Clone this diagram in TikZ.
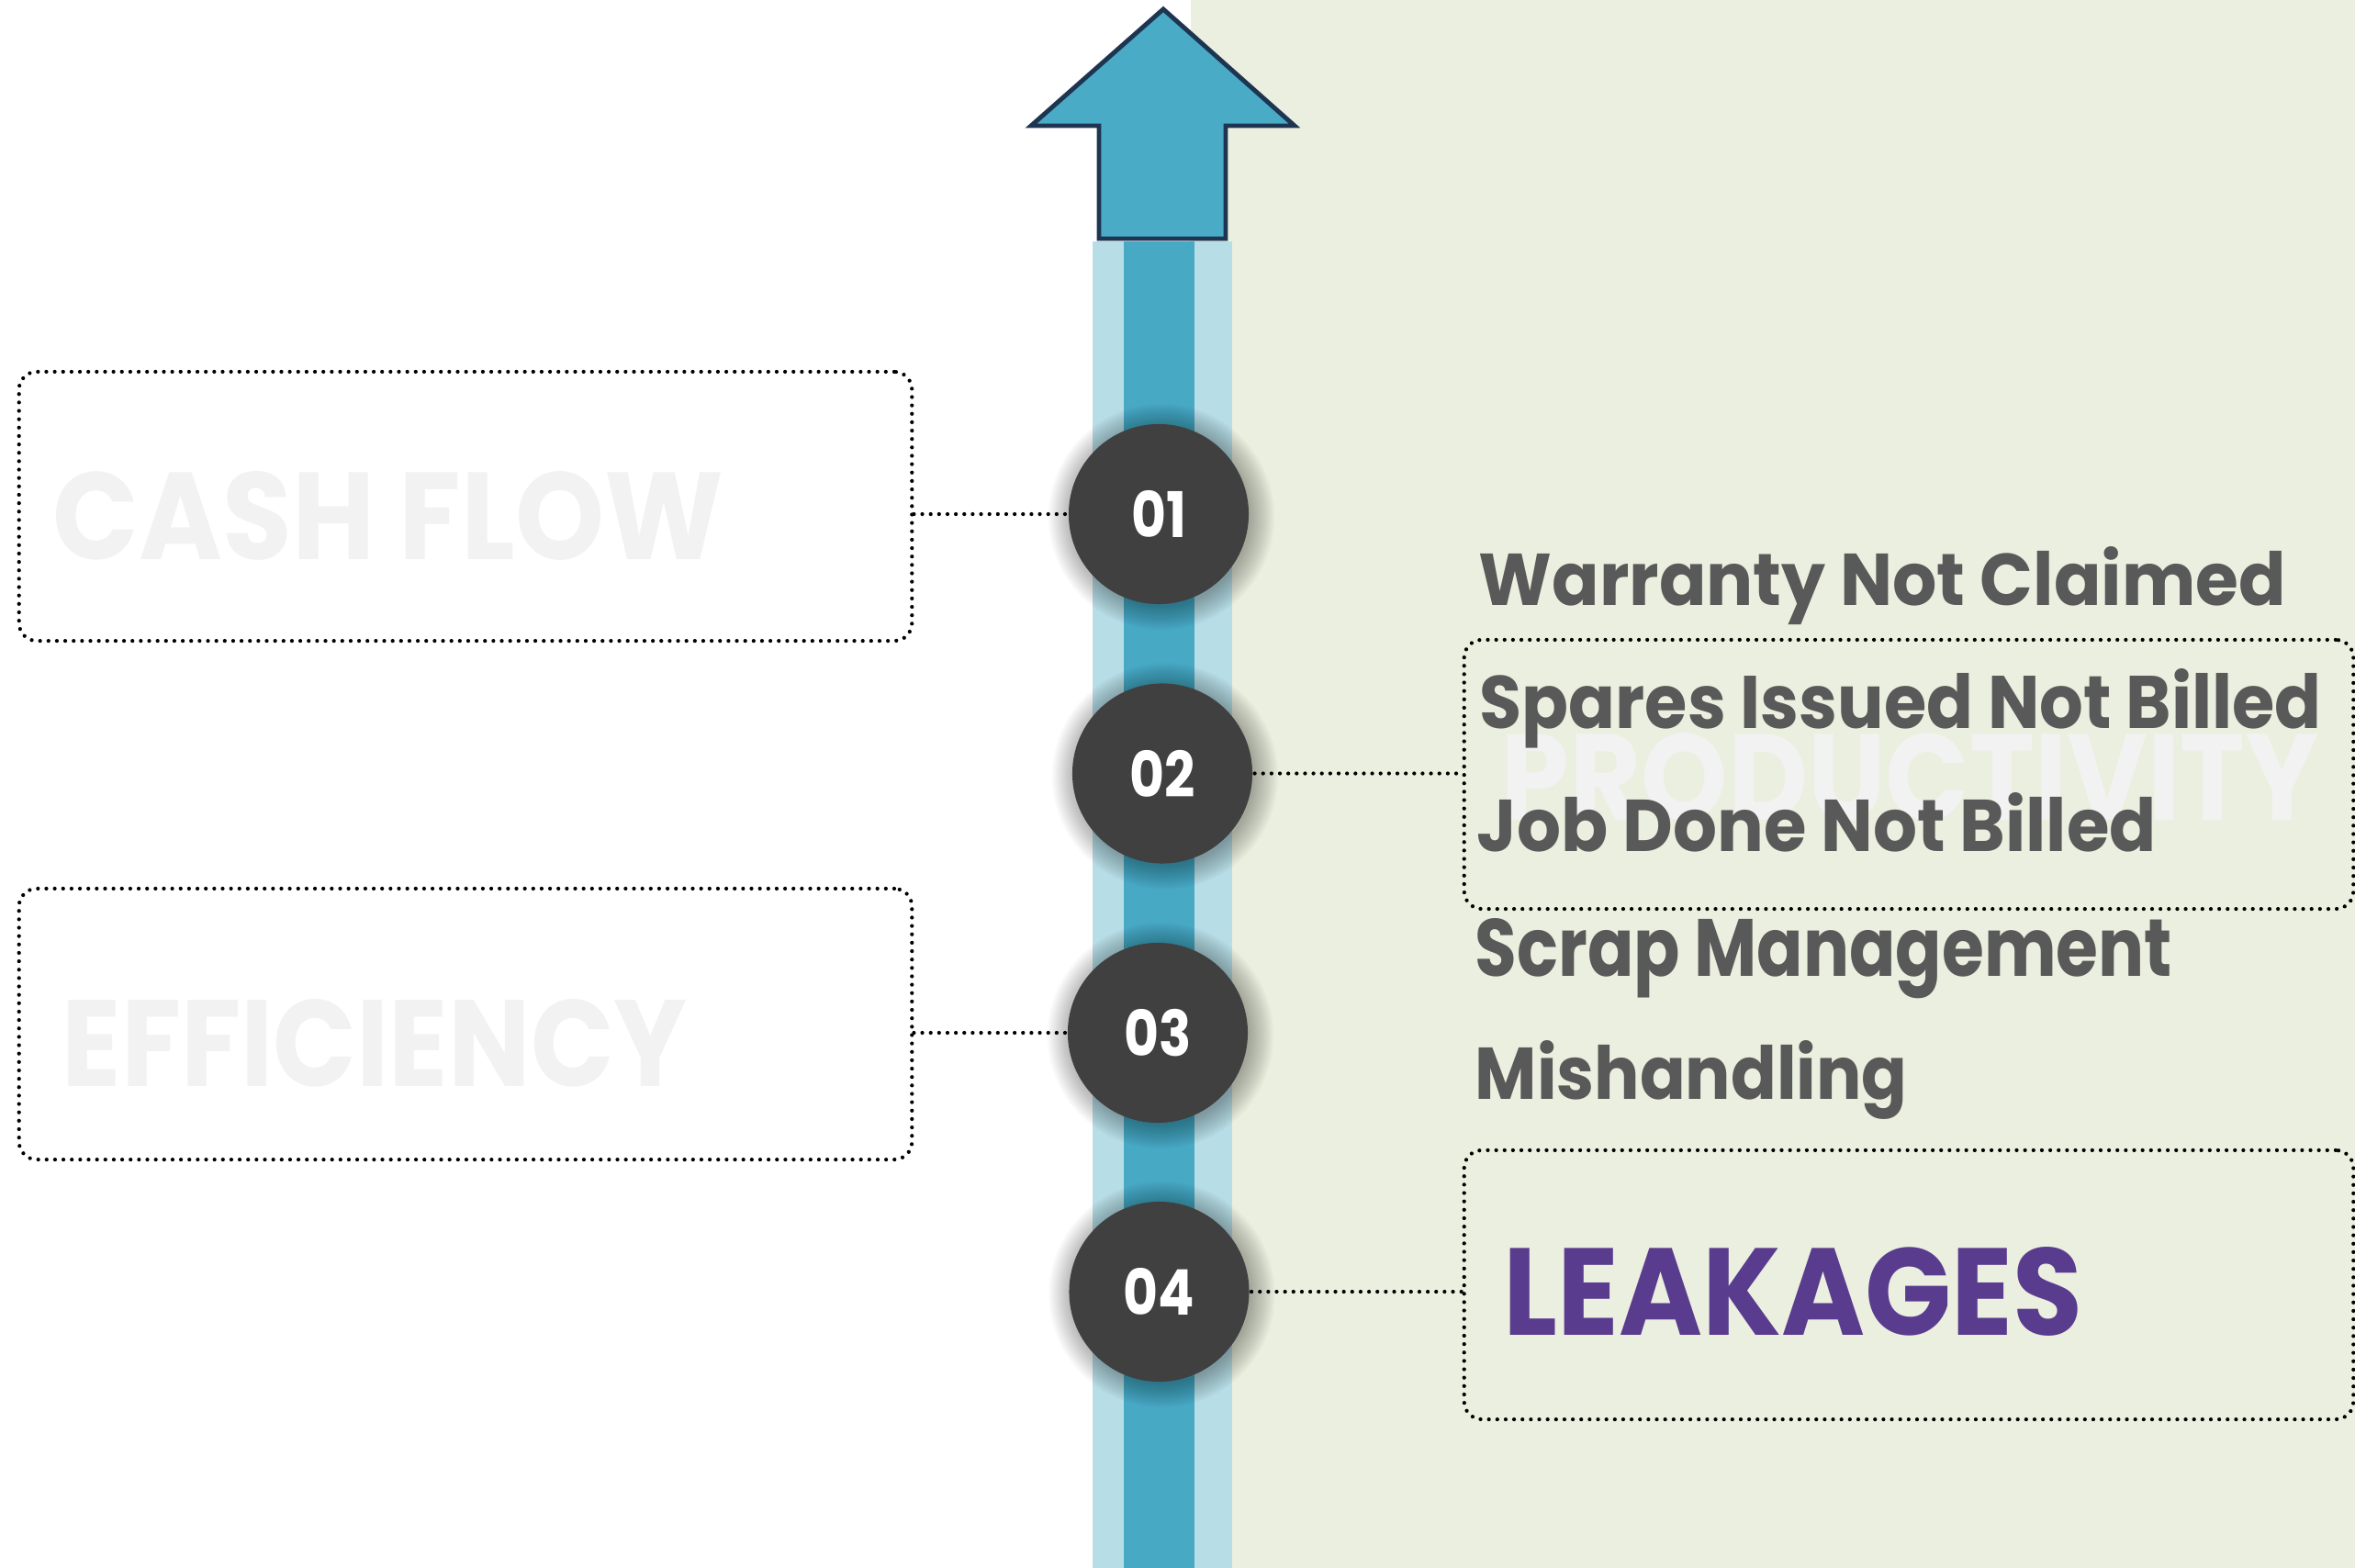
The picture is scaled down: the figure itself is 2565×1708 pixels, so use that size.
\documentclass[tikz,border=0pt]{standalone}
\usepackage{fontspec}
\usepackage{graphicx}
\usetikzlibrary{calc}

% geometric sans used for every label
\newfontfamily\geo{Poppins}[FakeStretch=0.85]

\definecolor{pageGreen}{HTML}{EBEFDF}
\definecolor{barLight}{HTML}{B7DDE6}
\definecolor{barDark}{HTML}{48A9C5}
\definecolor{arrowFill}{HTML}{4AABC6}
\definecolor{arrowEdge}{HTML}{1E3552}
\definecolor{badgeGray}{HTML}{404040}
\definecolor{bodyGray}{HTML}{595959}
\definecolor{ghostGray}{HTML}{F2F2F2}
\definecolor{leakPurple}{HTML}{5A3C8F}

% one drawing unit
\newlength\pxu
\setlength\pxu{0.01cm}
% set a label to a given width and height (in drawing units)
\newcommand\fitpx[3]{\resizebox{#1\pxu}{#2\pxu}{#3}}

\begin{document}
\begin{tikzpicture}[x=0.01cm, y=-0.01cm,
  panel/.style={draw=black, line width=1.2pt, dash pattern=on 0pt off 2.6pt,
    line cap=round, rounded corners=5.5pt, inner sep=0pt, rectangle},
  conn/.style={draw=black, line width=1.2pt, dash pattern=on 0pt off 2.6pt,
    line cap=round},
  badge/.style={circle, fill=badgeGray, minimum size=1.96cm, inner sep=0pt,
    text=white, font=\geo\bfseries\fontsize{19.5}{20}\selectfont},
  glow/.style={fill=black, fill opacity=0.018},
  ghost/.style={inner sep=0pt, anchor=base west, text=ghostGray,
    font=\geo\bfseries},
  item/.style={inner sep=0pt, anchor=base west, text=bodyGray,
    font=\geo\bfseries},
]
\useasboundingbox (0,0) rectangle (2565,1708);
\fill[white] (0,0) rectangle (2565,1708);

% right-hand tinted panel
\fill[pageGreen] (1297,0) rectangle (2565,1708);

% vertical track
\fill[barLight] (1190,263) rectangle (1342,1708);
\fill[barDark] (1224,263) rectangle (1301,1708);

% upward arrow
\draw[arrowEdge, fill=arrowFill, line width=1.4pt, line join=miter]
  (1267,10) -- (1410,137) -- (1335,137) -- (1335,260) -- (1197,260)
  -- (1197,137) -- (1123,137) -- cycle;

% dotted frames
\node[panel, minimum width=9.72cm, minimum height=2.93cm] (cashbox) at (507,551.5) {};
\node[panel, minimum width=9.72cm, minimum height=2.95cm] (effbox) at (507,1115.5) {};
\node[panel, minimum width=9.68cm, minimum height=2.93cm] (prodbox) at (2079,843.5) {};
\node[panel, minimum width=9.68cm, minimum height=2.93cm] (leakbox) at (2079,1399.5) {};

% large labels
\node[ghost] (cash) at (57,609) {\fitpx{730}{96}{CASH FLOW}};
\node[ghost] (eff) at (67,1183) {\fitpx{681}{95}{EFFICIENCY}};
\node[ghost] (prod) at (1634,893) {\fitpx{891}{95}{PRODUCTIVITY}};
\node[ghost, text=leakPurple] (leak) at (1637,1454) {\fitpx{631}{96}{LEAKAGES}};

% list of items
\node[item] (i1) at (1610,659) {\fitpx{879}{64}{Warranty Not Claimed}};
\node[item] (i2) at (1611,793) {\fitpx{917}{65}{Spares Issued Not Billed}};
\node[item] (i3) at (1608,927) {\fitpx{740}{64}{Job Done Not Billed}};
\node[item] (i4) at (1606,1063) {\fitpx{759}{63}{Scrap Management}};
\node[item] (i5) at (1606,1197) {\fitpx{471}{64}{Mishandling}};

% numbered stops
\coordinate (p1) at (1262,560);
\coordinate (p2) at (1266,842.5);
\coordinate (p3) at (1261,1125);
\coordinate (p4) at (1262.5,1407);

\draw[conn] (p1 -| cashbox.east) -- (p1);
\draw[conn] (p2) -- (p2 -| prodbox.west);
\draw[conn] (p3 -| effbox.east) -- (p3);
\draw[conn] (p4) -- (p4 -| leakbox.west);

% soft shadow under each stop
\foreach \p in {p1,p2,p3,p4}{
  \foreach \k in {1,...,16}{
    \fill[glow] ($(\p)+(3,3)$) circle[radius={96+\k*1.7}];
  }
}

\node[badge] (c1) at (p1) {01};
\node[badge] (c2) at (p2) {02};
\node[badge] (c3) at (p3) {03};
\node[badge] (c4) at (p4) {04};
\end{tikzpicture}
\end{document}
